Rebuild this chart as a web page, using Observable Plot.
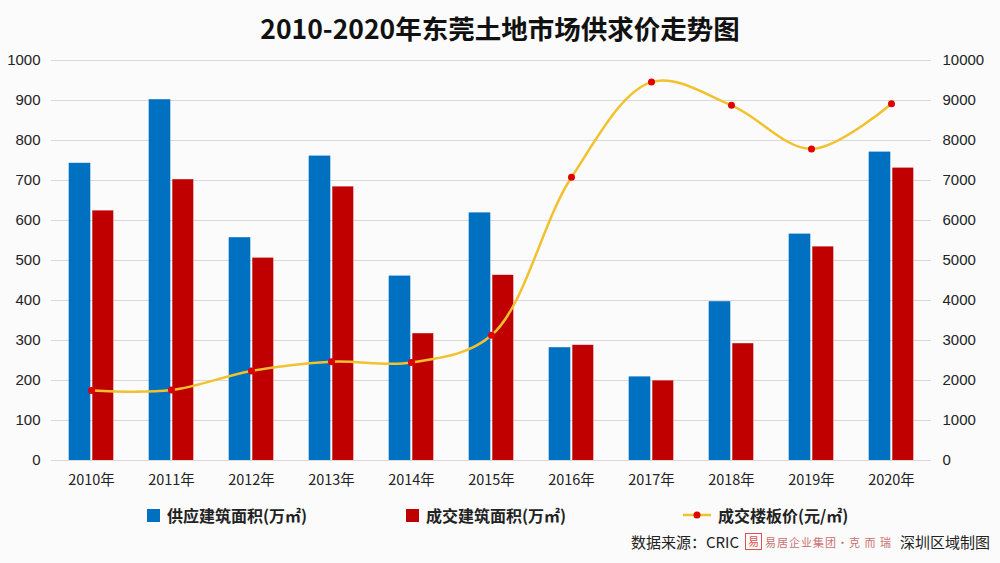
<!DOCTYPE html>
<html>
<head>
<meta charset="utf-8">
<script src="https://cdn.jsdelivr.net/npm/d3@7"></script>
<script src="https://cdn.jsdelivr.net/npm/@observablehq/plot@0.6"></script>
<style>
  html, body { margin: 0; padding: 0; background: #fbfbfb; }
  #wrap { position: relative; width: 1000px; height: 563px; overflow: hidden; font-family: "Noto Sans CJK SC", "Noto Sans", sans-serif; }
  #title { position: absolute; top: 0; left: 0; width: 1000px; height: 45px; line-height: 56px; text-align: center; font-size: 26.5px; font-weight: 700; color: #111; }
  #chart { position: absolute; top: 45px; left: 0; }
  .leg { position: absolute; top: 503px; font-size: 16px; font-weight: 700; color: #222; display: flex; align-items: center; white-space: nowrap; }
  .sw { display: inline-block; width: 13px; height: 13px; margin-right: 7px; }
  #src { position: absolute; top: 531px; right: 10px; font-size: 15px; color: #222; display: flex; align-items: center; white-space: nowrap; }
  #src .logo { display: inline-block; width: 17px; height: 17px; border: 1.5px solid #d9534f; color: #d9534f; font-size: 11px; line-height: 14px; text-align: center; margin: 0 3px 0 6px; box-sizing: border-box; }
  #src .brand { font-size: 11px; color: #c97070; margin-right: 8px; letter-spacing: 1px; }
</style>
</head>
<body>
<div id="wrap">
  <div id="title">2010-2020年东莞土地市场供求价走势图</div>
  <div id="chart"></div>
  <div class="leg" style="left:147px"><span class="sw" style="background:#0070C0"></span>供应建筑面积(万㎡)</div>
  <div class="leg" style="left:406px"><span class="sw" style="background:#C00000"></span>成交建筑面积(万㎡)</div>
  <div class="leg" style="left:682px">
    <svg width="30" height="14" style="margin-right:6px"><line x1="1" y1="7" x2="29" y2="7" stroke="#F2C12E" stroke-width="2.5"/><circle cx="15" cy="7" r="3.5" fill="#E00000"/></svg>成交楼板价(元/㎡)
  </div>
  <div id="src">数据来源：CRIC<span class="logo">易</span><span class="brand">易居企业集团·克 而 瑞</span>深圳区域制图</div>
</div>
<script>
const years = ["2010年","2011年","2012年","2013年","2014年","2015年","2016年","2017年","2018年","2019年","2020年"];
const supplyArea = [743, 902, 557, 761, 461, 619, 282, 209, 397, 566, 771];
const dealArea = [624, 702, 506, 684, 317, 463, 288, 199, 292, 534, 731];
const dealPrice = [1750, 1760, 2240, 2470, 2450, 3130, 7080, 9460, 8880, 7790, 8920];
const leftTicks = [0,100,200,300,400,500,600,700,800,900,1000];

const rows = years.map((y, i) => ({year: y, supply: supplyArea[i], deal: dealArea[i], price: dealPrice[i]}));

const chart = Plot.plot({
  width: 1000,
  height: 465,
  marginTop: 15,
  marginBottom: 50,
  marginLeft: 51,
  marginRight: 69,
  style: {background: "transparent", fontFamily: "'Liberation Sans', 'Noto Sans CJK SC', sans-serif", fontSize: "15px", color: "#222"},
  x: {domain: years, padding: 0, label: null},
  y: {domain: [0, 1000], label: null},
  marks: [
    Plot.gridY(leftTicks, {stroke: "#d9d9d9", strokeOpacity: 1, strokeWidth: 1}),
    Plot.axisY(leftTicks, {anchor: "left", tickSize: 0, tickPadding: 11, label: null, tickFormat: d => String(d), fontSize: 15, fill: "#222"}),
    Plot.axisY(leftTicks, {anchor: "right", tickSize: 0, tickPadding: 11, label: null, tickFormat: d => String(d * 10), fontSize: 15, fill: "#222"}),
    Plot.axisX({anchor: "bottom", tickSize: 0, tickPadding: 14, label: null, fontSize: 14.5, fill: "#222", fontFamily: "'Noto Sans CJK SC', sans-serif"}),
    Plot.barY(rows, {x: "year", y: "supply", fill: "#0070C0", insetLeft: 17.7, insetRight: 40.7}),
    Plot.barY(rows, {x: "year", y: "deal", fill: "#C00000", insetLeft: 41.3, insetRight: 17.7}),
    Plot.line(rows, {x: "year", y: d => d.price / 10, stroke: "#F2C12E", strokeWidth: 2.5, curve: "catmull-rom"}),
    Plot.dot(rows, {x: "year", y: d => d.price / 10, fill: "#E00000", r: 3.5})
  ]
});
chart.style.overflow = "visible";
document.getElementById("chart").appendChild(chart);
</script>
</body>
</html>
